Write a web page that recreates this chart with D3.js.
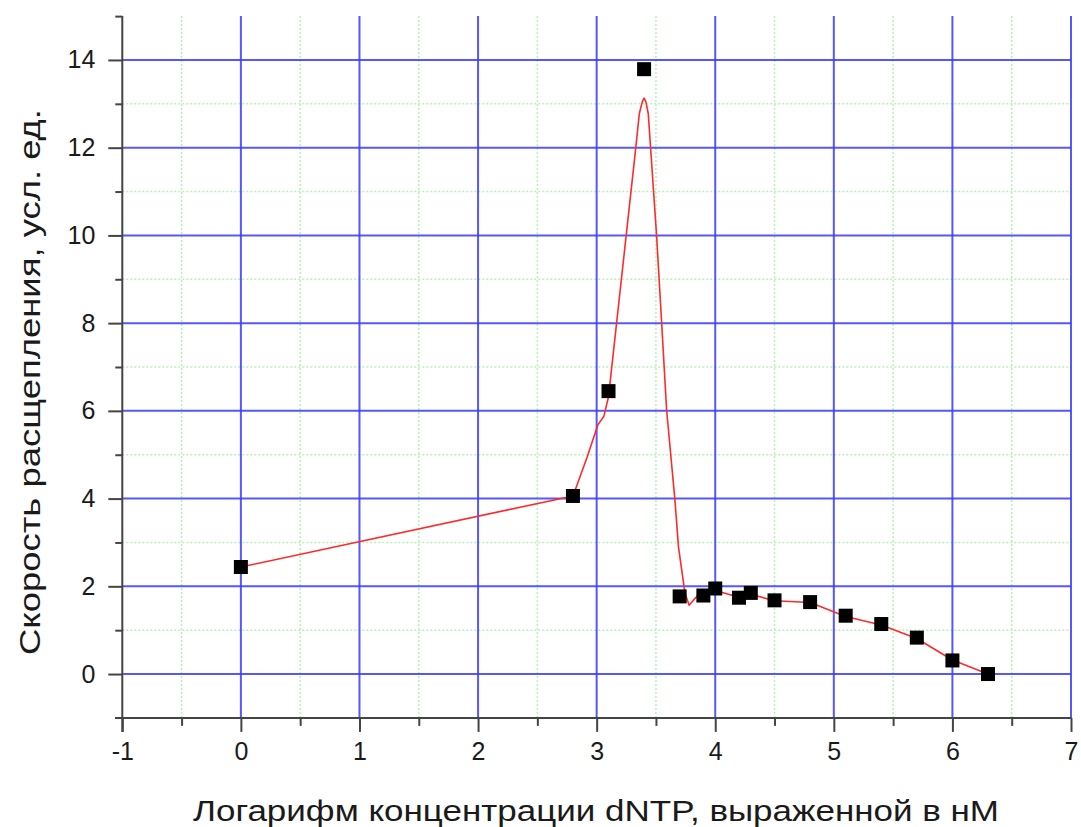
<!DOCTYPE html>
<html>
<head>
<meta charset="utf-8">
<script src="https://cdn.jsdelivr.net/npm/d3@7"></script>
<style>
  html, body { margin: 0; padding: 0; background: #fff; }
  svg { display: block; }
  text { font-family: "Liberation Sans", Arial, sans-serif; fill: #1a1a1a; }
</style>
</head>
<body>
<svg id="chart" width="1081" height="827"></svg>
<script>
// Measured cleavage rate vs log10 of dNTP concentration (nM)
const logConc = [0, 2.8, 3.1, 3.4, 3.7, 3.9, 4.0, 4.2, 4.3, 4.5, 4.8, 5.1, 5.4, 5.7, 6.0, 6.3];
const rate    = [2.44, 4.06, 6.45, 13.79, 1.77, 1.79, 1.95, 1.74, 1.85, 1.68, 1.64, 1.33, 1.14, 0.83, 0.31, 0.0];

// Smoothed curve drawn through the measurements
const curveX = [0, 2.8, 2.82, 2.92, 3.01, 3.06, 3.10, 3.16, 3.33, 3.36, 3.385, 3.40, 3.415, 3.435, 3.455, 3.506, 3.55, 3.59, 3.66, 3.69, 3.745, 3.78, 3.88, 4.0, 4.03, 4.2, 4.3, 4.5, 4.8, 5.1, 5.4, 5.7, 6.0, 6.3];
const curveY = [2.44, 4.06, 4.2, 4.95, 5.68, 5.87, 6.32, 7.8, 12.0, 12.78, 13.05, 13.13, 13.05, 12.78, 11.99, 9.97, 7.92, 6.02, 3.97, 2.9, 1.84, 1.57, 1.88, 1.88, 1.88, 1.75, 1.82, 1.67, 1.63, 1.31, 1.12, 0.81, 0.32, 0.0];

const xTicks = [-1, 0, 1, 2, 3, 4, 5, 6, 7];
const yTicks = [0, 2, 4, 6, 8, 10, 12, 14];

const xLabel = "Логарифм концентрации dNTP, выраженной в нМ";
const yLabel = "Скорость расщепления, усл. ед.";

const svg = d3.select("#chart");

const x = d3.scaleLinear().domain([-1, 7]).range([122.3, 1071]);
const y = d3.scaleLinear().domain([-1, 15]).range([717.9, 16.1]);

const xMinor = d3.range(-0.5, 7, 1);
const yMinor = d3.range(-1, 16, 2);

// Minor grid (dotted green)
const grid = svg.append("g");
grid.selectAll("line.xm").data(xMinor).enter().append("line")
  .attr("x1", d => x(d)).attr("x2", d => x(d))
  .attr("y1", y(15)).attr("y2", y(-1))
  .attr("stroke", "#b6f2b6").attr("stroke-width", 1.5).attr("stroke-dasharray", "2,2");
grid.selectAll("line.ym").data(yMinor.filter(d => d > -1 && d < 15)).enter().append("line")
  .attr("x1", x(-1)).attr("x2", x(7))
  .attr("y1", d => y(d)).attr("y2", d => y(d))
  .attr("stroke", "#b6f2b6").attr("stroke-width", 1.5).attr("stroke-dasharray", "2,2");

// Major grid (blue)
grid.selectAll("line.xM").data(xTicks.filter(d => d > -1)).enter().append("line")
  .attr("x1", d => x(d)).attr("x2", d => x(d))
  .attr("y1", y(15)).attr("y2", y(-1))
  .attr("stroke", "#3a3aff").attr("stroke-width", 2).attr("stroke-opacity", 0.85);
grid.selectAll("line.yM").data(yTicks).enter().append("line")
  .attr("x1", x(-1)).attr("x2", x(7))
  .attr("y1", d => y(d)).attr("y2", d => y(d))
  .attr("stroke", "#3a3aff").attr("stroke-width", 2).attr("stroke-opacity", 0.85);

// Axes
const axisColor = "#444";
const fmt = d => String(d);
const xAxis = svg.append("g").attr("transform", `translate(0,${y(-1)})`)
  .call(d3.axisBottom(x).tickValues(xTicks).tickSize(14).tickPadding(10).tickFormat(fmt));
const xAxisMinor = svg.append("g").attr("transform", `translate(0,${y(-1)})`)
  .call(d3.axisBottom(x).tickValues(xMinor).tickSize(8).tickFormat(""));
const yAxis = svg.append("g").attr("transform", `translate(${x(-1)},0)`)
  .call(d3.axisLeft(y).tickValues(yTicks).tickSize(14).tickPadding(13).tickFormat(fmt));
const yAxisMinor = svg.append("g").attr("transform", `translate(${x(-1)},0)`)
  .call(d3.axisLeft(y).tickValues(yMinor.filter(d => d > -1)).tickSize(7).tickFormat(""));

[xAxis, xAxisMinor, yAxis, yAxisMinor].forEach(g => {
  g.select(".domain").remove();
  g.selectAll("line").attr("stroke", axisColor).attr("stroke-width", 2);
  g.selectAll("text").style("font-size", "25px").attr("fill", "#1a1a1a");
});

svg.append("line").attr("x1", 115).attr("x2", x(7)).attr("y1", y(-1)).attr("y2", y(-1))
  .attr("stroke", axisColor).attr("stroke-width", 2);
svg.append("line").attr("x1", x(-1)).attr("x2", x(-1)).attr("y1", y(15)).attr("y2", y(-1) + 14)
  .attr("stroke", axisColor).attr("stroke-width", 2);

// Smoothed curve
const line = d3.line().x((d, i) => x(curveX[i])).y(d => y(d));
svg.append("path").datum(curveY)
  .attr("d", line)
  .attr("fill", "none").attr("stroke", "#ff2a2a").attr("stroke-width", 1.6)
  .attr("stroke-linejoin", "round");

// Measurements
const s = 14;
svg.append("g").selectAll("rect").data(rate).enter().append("rect")
  .attr("x", (d, i) => x(logConc[i]) - s / 2)
  .attr("y", d => y(d) - s / 2)
  .attr("width", s).attr("height", s)
  .attr("fill", "#000");

// Axis titles
svg.append("text")
  .attr("x", 596).attr("y", 821)
  .attr("text-anchor", "middle")
  .attr("textLength", 806).attr("lengthAdjust", "spacingAndGlyphs")
  .style("font-size", "29px")
  .text(xLabel);

svg.append("text")
  .attr("transform", `translate(40,382) rotate(-90)`)
  .attr("text-anchor", "middle")
  .attr("textLength", 546).attr("lengthAdjust", "spacingAndGlyphs")
  .style("font-size", "29px")
  .text(yLabel);
</script>
</body>
</html>
